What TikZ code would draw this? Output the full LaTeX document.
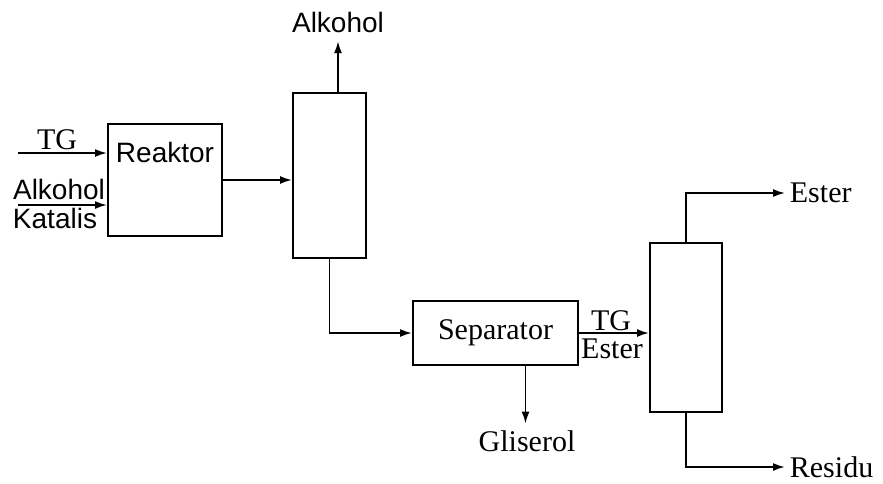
\documentclass[tikz,border=0pt]{standalone}
\usepackage{fontspec}
\setmainfont{Liberation Serif}
\setsansfont{Liberation Sans}
\usetikzlibrary{positioning,arrows.meta,calc}

\begin{document}
\begin{tikzpicture}[x=0.5pt, y=-0.5pt, line width=0.9pt,
  every node/.style={font=\fontsize{15}{17}\selectfont, inner sep=0pt},
  unit/.style={draw, line width=1pt},
  sanslbl/.style={font=\fontsize{14}{16}\selectfont\sffamily},
  flow/.style={-{Latex[length=6pt,width=4pt]}}]
  \useasboundingbox (0,0) rectangle (883,483);
  % units
  \node[unit, minimum width=57pt, minimum height=56pt,
        label={[anchor=north, yshift=-9pt, sanslbl]north:Reaktor}] (reaktor) at (165,180) {};
  \node[unit, minimum width=36.5pt, minimum height=82.5pt] (col1) at (329.5,175.5) {};
  \node[unit, minimum width=82.5pt, minimum height=32pt] (sep) at (495.5,333) {Separator};
  \node[unit, minimum width=36pt, minimum height=84.5pt] (col2) at (686,327.5) {};
  % feed side
  \coordinate (tgin) at (18,153);
  \coordinate (alkin) at (18,205);
  \node (tg) at (57,140) {TG};
  \node[sanslbl] (alk) at (59,189) {Alkohol};
  \node[sanslbl] (kat) at (55,218) {Katalis};
  \draw[flow] (tgin) -- (tgin -| reaktor.west);
  \draw[flow] (alkin) -- (alkin -| reaktor.west);
  % products
  \node[sanslbl] (alktop) at (338,22) {Alkohol};
  \node (glis) at (527,441) {Gliserol};
  \node (tg2) at (611,321) {TG};
  \node (est2) at (612,349) {Ester};
  \node[anchor=west] (ester) at (789,193) {Ester};
  \node[anchor=west] (residu) at (789,467) {Residu};
  \coordinate (glisout) at ($(sep.south)+(30,0)$);
  % streams
  \draw[flow] (reaktor.east) -- (reaktor.east -| col1.west);
  \draw[flow] (col1.north -| alktop) -- ($(alktop.south)+(0,8)$);
  \draw[flow] (col1.south) |- (sep.west);
  \draw[flow] (glisout) -- ($(glisout |- glis.north)+(0,-6)$);
  \draw[flow] (sep.east) -- (sep.east -| col2.west);
  \draw[flow] (col2.north) |- ($(ester.west)+(-4,0)$);
  \draw[flow] (col2.south) |- ($(residu.west)+(-4,0)$);
\end{tikzpicture}
\end{document}
